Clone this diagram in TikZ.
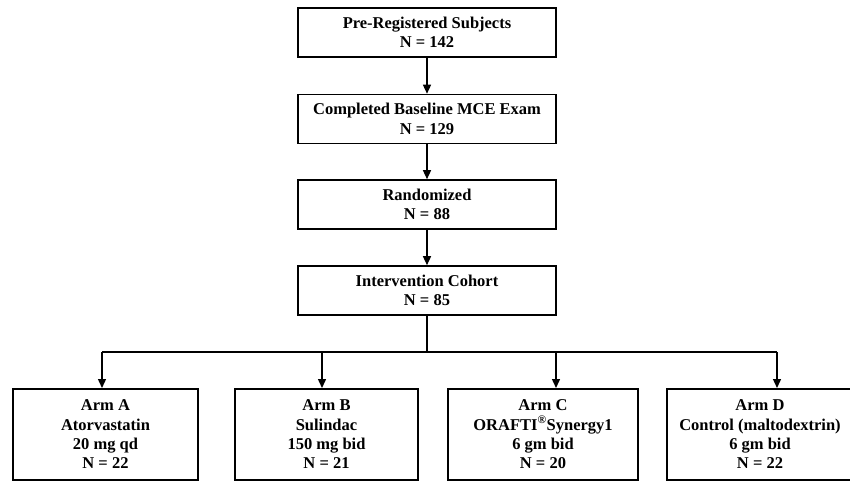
\documentclass[tikz,border=0pt]{standalone}
\usepackage{fontspec}
\setmainfont{Liberation Serif}
\usetikzlibrary{arrows.meta}

\tikzset{
	stage/.style={draw,line width=1.6pt,minimum width=258pt,minimum height=49pt,align=center,font=\bfseries\fontsize{16.5}{19.3}\selectfont,inner sep=0pt},
	arm/.style={stage,minimum height=91pt,anchor=north},
	flow/.style={line width=1.4pt,-{Triangle[length=9pt,width=8pt]}}
}

\begin{document}
\begin{tikzpicture}[x=1pt,y=-1pt]
	\useasboundingbox (0,0) rectangle (850,481);
	\node[stage] at (427,32.5) (pre) {Pre-Registered Subjects\\N = 142};
	\node[stage] at (427,119) (base) {Completed Baseline MCE Exam\\N = 129};
	\node[stage] at (427,204.5) (rand) {Randomized\\N = 88};
	\node[stage] at (427,290.5) (cohort) {Intervention Cohort\\N = 85};
	\coordinate (split) at (427,352);
	\node[arm,minimum width=185pt] at (105.5,388) (armA) {Arm A\\Atorvastatin\\20 mg qd\\N = 22};
	\node[arm,minimum width=183pt] at (326.5,388) (armB) {Arm B\\Sulindac\\150 mg bid\\N = 21};
	\node[arm,minimum width=190pt] at (543,388) (armC) {Arm C\\ORAFTI\textsuperscript{\textregistered}Synergy1\\6 gm bid\\N = 20};
	\node[arm,minimum width=186pt] at (760,388) (armD) {Arm D\\Control (maltodextrin)\\6 gm bid\\N = 22};
	\coordinate (dropA) at (102,352);
	\coordinate (dropB) at (322,352);
	\coordinate (dropC) at (556,352);
	\coordinate (dropD) at (777,352);
	\draw[flow] (pre) -- (base);
	\draw[flow] (base) -- (rand);
	\draw[flow] (rand) -- (cohort);
	\draw[line width=1.4pt] (cohort) -- (split);
	\draw[line width=1.4pt] (dropA) -- (dropD);
	\foreach \a in {A,B,C,D}
		\draw[flow] (drop\a) -- (drop\a |- arm\a.north);
\end{tikzpicture}
\end{document}
